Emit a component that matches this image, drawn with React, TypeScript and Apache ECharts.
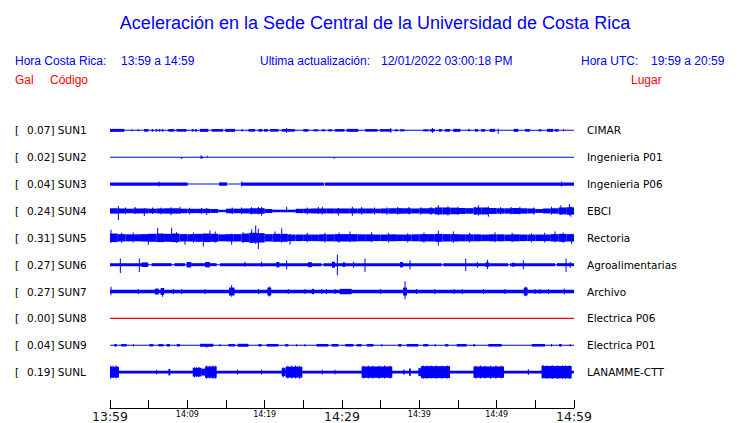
import React, { useEffect, useRef } from "react";
import * as echarts from "echarts";

// ---------- data ----------
const stationCodes = ["SUN1", "SUN2", "SUN3", "SUN4", "SUN5", "SUN6", "SUN7", "SUN8", "SUN9", "SUNL"];
const peakGal = ["0.07", "0.02", "0.04", "0.24", "0.31", "0.27", "0.27", "0.00", "0.04", "0.19"];
const places = ["CIMAR", "Ingenieria P01", "Ingenieria P06", "EBCI", "Rectoria", "Agroalimentarias", "Archivo", "Electrica P06", "Electrica P01", "LANAMME-CTT"];
const BLUE = "#0000ff";
const RED = "#ff0000";
const traceColors = [BLUE, BLUE, BLUE, BLUE, BLUE, BLUE, BLUE, RED, BLUE, BLUE];
// baseline half thickness (display units) per station
const baseHalf = [0.5, 0.5, 0.5, 0.5, 0.5, 0.5, 1.8, 0.6, 0.5, 1.3];

// x tick labels every 5 minutes (13:59 .. 14:59)
const xTickLabels = ["13:59", "", "14:09", "", "14:19", "", "14:29", "", "14:39", "", "14:49", "", "14:59"];
const majorTickIdx = [0, 6, 12];

// per-minute envelope (half amplitude) of noisy stations
const sun4Env = [2.7, 2.5, 2.3, 2.5, 2.5, 2.3, 2.5, 2.7, 2.7, 2.3, 2.2, 2.2, 2.2, 2.0, 1.2, 2.3, 2.3, 2.5, 2.7, 2.8, 2.0, 1.3, 1.3, 1.3, 2.2, 2.3, 2.5, 2.5, 2.5, 2.5, 2.5, 2.5, 2.5, 2.5, 2.3, 2.5, 2.7, 2.8, 2.7, 2.5, 2.7, 2.8, 3.5, 3.5, 3.3, 3.0, 2.8, 3.5, 3.5, 3.0, 2.7, 2.7, 3.0, 2.7, 2.5, 2.0, 2.5, 2.7, 3.5, 3.7];
const sun5Env = [4.3, 3.7, 3.5, 3.5, 3.7, 4.0, 4.3, 4.0, 4.3, 3.7, 3.7, 4.0, 4.3, 4.0, 3.5, 3.7, 3.7, 4.3, 5.0, 4.7, 3.7, 4.0, 4.0, 3.3, 3.3, 3.3, 3.3, 3.5, 3.5, 3.7, 3.7, 3.7, 3.5, 3.5, 3.3, 3.3, 3.5, 3.3, 3.3, 3.5, 3.7, 3.7, 4.0, 3.7, 3.7, 3.5, 3.5, 3.5, 3.3, 3.5, 3.5, 3.3, 3.5, 3.3, 3.3, 3.3, 3.3, 3.7, 4.0, 3.7];

// bursts: [startMin, endMin, halfAmplitude]
const sun1Bursts = [[0, 1.85, 1.5], [2.8, 2.9, 1.0], [3.62, 3.7, 1.0], [4.4, 4.96, 1.3], [5.4, 5.6, 1.3], [5.9, 6.1, 1.3], [6.3, 6.5, 1.3], [6.7, 6.9, 1.3], [7.54, 8.3, 1.3], [8.6, 9.9, 1.3], [10.56, 10.8, 1.3], [11.0, 11.2, 1.3], [11.64, 12.7, 1.5], [13.15, 14.6, 1.3], [14.9, 16.16, 1.5], [17.0, 17.2, 1.0], [17.9, 18.75, 1.3], [19.2, 19.7, 1.3], [19.9, 20.4, 1.3], [20.7, 21.8, 1.3], [22.2, 23.9, 1.3], [25.0, 25.65, 1.3], [26.3, 26.9, 1.0], [27.4, 27.8, 1.0], [28.2, 28.7, 1.0], [29.1, 30.3, 1.3], [30.6, 32.1, 1.5], [33.0, 34.6, 1.3], [34.9, 36.4, 1.3], [36.85, 37.2, 1.0], [37.5, 38.1, 1.0], [40.5, 41.2, 1.0], [41.4, 42.0, 1.3], [42.5, 42.9, 1.3], [43.3, 43.97, 1.3], [44.4, 45.3, 1.5], [46.3, 46.55, 1.0], [47.2, 47.6, 1.3], [48.0, 48.5, 1.3], [49.1, 49.8, 1.5], [52.2, 52.8, 1.5], [53.66, 54.3, 1.3], [55.4, 55.8, 1.0], [56.5, 57.3, 1.5], [57.5, 58.0, 1.3], [58.6, 58.7, 1.0]];
const sun2Bursts = [[11.7, 11.95, 1.5]];
const sun3Bursts = [[0, 10.04, 1.7], [14.1, 15.13, 1.7], [16.94, 27.65, 1.7], [27.8, 60, 1.7]];
const sun6Bursts = [[0, 4.96, 1.5], [5.39, 7.97, 1.5], [8.32, 9.7, 1.5], [9.91, 13.79, 1.5], [14.22, 27.37, 1.5], [27.59, 42.89, 1.5], [43.1, 51.5, 1.5], [51.72, 57.54, 1.5], [57.76, 60, 1.5], [4.1, 4.9, 2.3], [9.9, 10.5, 2.7], [12.3, 12.9, 2.7], [21.5, 21.9, 2.7], [25.6, 26.1, 2.5], [28.7, 29.1, 3.0], [30.1, 30.4, 2.3], [37.5, 37.9, 2.7], [48.6, 49.0, 2.3], [52.0, 52.3, 2.0]];
const sun7Bursts = [[5.8, 6.3, 3.0], [6.55, 7.0, 3.5], [15.4, 16.1, 4.0], [20.35, 20.85, 4.0], [26.1, 26.4, 2.7], [29.7, 31.25, 2.7], [37.9, 38.4, 4.0], [53.5, 54.0, 4.0]];
const sun9Bursts = [[0.56, 0.86, 1.3], [1.42, 2.16, 1.2], [3.0, 3.05, 1.3], [5.09, 5.6, 1.2], [6.25, 6.9, 1.2], [7.33, 7.76, 1.3], [8.62, 9.05, 1.2], [11.64, 13.36, 1.5], [14.2, 14.25, 1.3], [15.3, 16.16, 1.2], [16.5, 17.9, 1.5], [19.18, 19.6, 1.2], [20.26, 21.77, 1.3], [22.63, 23.06, 1.2], [24.1, 24.2, 1.2], [25.15, 25.25, 1.2], [26.7, 28.23, 1.3], [28.66, 29.53, 1.3], [30.4, 31.47, 1.3], [31.9, 32.54, 1.2], [33.2, 34.05, 1.3], [35.1, 35.2, 1.2], [37.28, 37.7, 1.3], [38.36, 39.87, 1.3], [40.5, 41.16, 1.2], [42.0, 42.1, 1.2], [43.32, 43.75, 1.2], [44.83, 46.12, 1.3], [46.98, 47.2, 1.2], [48.92, 50.65, 1.3], [54.53, 56.25, 1.3], [57.05, 57.15, 1.2], [58.06, 58.4, 1.3], [59.45, 59.55, 1.2]];
const sunLBursts = [[0, 1.16, 5.5], [7.55, 7.8, 3.3], [10.7, 11.85, 4.3], [11.85, 12.28, 3.5], [12.28, 13.8, 5.7], [22.2, 22.7, 4.0], [22.7, 24.87, 5.5], [32.54, 36.5, 5.7], [37.9, 38.1, 2.3], [38.66, 38.9, 3.7], [39.87, 40.2, 4.0], [40.2, 43.97, 6.0], [47.0, 50.95, 5.7], [55.8, 59.7, 6.2]];

// spikes: [minute, up, down]
const sun1Spikes = [[22.84, 2.3, 2.3], [36.3, 2.3, 2.3], [41.7, 2.3, 2.3], [50.2, 1.5, 3.3]];
const sun2Spikes = [[9.27, 0, 1.8], [12.6, 1.5, 0], [29.0, 0, 1.5]];
const sun3Spikes = [[6.34, 2.5, 2.5], [17.05, 2.5, 2.5], [58.4, 2.5, 2.5]];
const sun4Spikes = [[1.08, 5, 9], [2.0, 3.5, 3], [3.23, 4, 3], [4.44, 3, 5], [5.5, 3.5, 3], [6.6, 3.5, 3.5], [7.89, 3.7, 4.3], [9.05, 4.3, 3], [10.3, 3.3, 3.5], [11.85, 3, 3], [12.5, 3, 4], [15.8, 3.5, 3], [17.0, 3.5, 3.3], [18.3, 3.7, 3.5], [19.18, 4.3, 3.5], [19.6, 4, 4.7], [22.84, 4.3, 1.5], [25.5, 3.5, 3.5], [26.94, 4, 3], [27.46, 4.3, 3.5], [29.53, 3, 4.5], [31.34, 4.3, 4.7], [32.54, 4, 3.5], [34.2, 3.5, 3.5], [35.8, 3.5, 3.7], [37.2, 4, 3.5], [38.66, 4, 3.5], [40.2, 3.7, 3.7], [41.5, 4, 4], [42.46, 5.7, 4.3], [43.7, 4.7, 4.5], [45.0, 4.3, 4], [47.2, 4.3, 4], [47.63, 5.7, 4.5], [48.92, 4.5, 5.7], [50.5, 3.7, 3.5], [51.85, 4, 3.5], [53.0, 4.3, 3.5], [54.8, 3.5, 3.5], [57.1, 4.3, 3.5], [58.3, 5.7, 4], [59.4, 7, 4.5], [59.6, 4.5, 5.7]];
const sun5Spikes = [[0.13, 8, 5], [1.5, 5, 5], [3.0, 5.3, 4.7], [4.96, 4, 7], [6.16, 10, 4], [7.97, 10, 4], [8.6, 5.7, 5], [9.7, 4, 7], [10.8, 5.3, 5], [12.07, 4, 8.7], [12.93, 7.3, 4], [13.6, 6.3, 5], [15.73, 4, 7], [17.2, 5.7, 5.3], [18.32, 8.7, 5], [18.84, 12.3, 6], [19.18, 9, 11.3], [21.34, 6.3, 4], [22.2, 9.7, 5], [23.28, 4, 6.7], [25.5, 5, 4.5], [27.8, 5, 4.7], [29.6, 5.3, 5], [31.03, 6.3, 4.5], [33.84, 5.7, 4.5], [36.0, 5, 4.7], [38.5, 4.7, 4.7], [40.6, 5.3, 5], [42.46, 7, 7.7], [44.4, 6.3, 5], [46.5, 5, 4.7], [49.78, 5.7, 4.5], [52.0, 5, 4.5], [54.5, 4.7, 4.5], [56.2, 5, 4.7], [57.54, 6.3, 4.5], [58.6, 5.3, 5], [59.7, 4, 6.3]];
const sun6Spikes = [[1.34, 6.3, 8.3], [3.79, 6.3, 7.3], [17.46, 3, 2], [19.6, 3, 2], [22.84, 4.3, 4.7], [29.4, 10.3, 10.7], [31.5, 3, 3], [32.97, 6.3, 7.3], [38.8, 4.5, 4.5], [46.0, 6.3, 6.3], [47.5, 3, 3], [48.8, 5, 4.7], [53.45, 4.5, 4.5], [58.97, 6.3, 7.3], [59.5, 3, 3]];
const sun7Spikes = [[0.13, 4.7, 3.7], [3.66, 2.5, 2.5], [6.8, 3, 5.3], [8.2, 2.5, 2.5], [9.27, 2.5, 2.5], [12.3, 2.5, 2.5], [15.73, 6.3, 5.3], [19.2, 2.5, 2.5], [20.6, 5, 5], [23.06, 2.5, 2.5], [25.2, 2.5, 2.5], [27.4, 2.5, 2.5], [28.0, 2.5, 2.5], [29.1, 2.5, 2.5], [35.0, 2.5, 2.5], [38.15, 10.3, 7.7], [39.65, 2.5, 2.5], [42.0, 2.5, 2.5], [44.5, 2.5, 2.5], [45.55, 2.5, 2.5], [48.3, 2.5, 2.5], [51.07, 2.5, 2.5], [53.75, 4.7, 4.7], [54.95, 2.5, 2.5], [55.6, 2.5, 2.5], [56.7, 2.5, 2.5], [58.75, 3, 3]];
const sun8Spikes = [];
const sun9Spikes = [[12.5, 0.5, 2.3]];
const sunLSpikes = [[0.1, 6.3, 6.7], [0.4, 6.3, 6], [0.8, 6.7, 6.3], [6.03, 2.3, 2.3], [10.9, 5, 5.3], [11.2, 5, 5], [11.5, 5.3, 5], [12.5, 6.3, 6.7], [12.9, 6.3, 6.3], [13.3, 6.7, 6.3], [13.6, 6.3, 6.7], [16.5, 2.3, 2.3], [19.6, 2.5, 2.5], [22.4, 5, 5.3], [23.0, 6.3, 6.3], [23.5, 6.3, 6.3], [24.0, 6.7, 6.3], [24.5, 6.3, 6.7], [27.45, 2.5, 2.5], [29.1, 2.3, 2.3], [32.8, 6.3, 6.3], [33.4, 6.7, 6.3], [34.0, 6.3, 6.3], [34.8, 6.3, 6.7], [35.5, 6.7, 6.3], [36.2, 6.3, 6.3], [40.5, 6.7, 6.7], [41.0, 6.3, 6.7], [41.5, 6.7, 6.3], [42.2, 6.7, 6.7], [42.9, 6.3, 6.7], [43.6, 6.7, 6.3], [47.3, 6.3, 6.3], [47.9, 6.7, 6.3], [48.5, 6.3, 6.3], [49.2, 6.3, 6.7], [49.9, 6.7, 6.3], [50.6, 6.3, 6.3], [54.1, 3, 3], [56.0, 7.3, 6], [56.5, 6.7, 6.7], [57.2, 7, 6.7], [57.9, 6.7, 7], [58.5, 6.7, 6.7], [58.9, 7, 6.7], [59.4, 6.7, 7]];

const envBursts = (env) => env.map((v, i) => [i, i + 1, v]);
const stationBursts = [sun1Bursts, sun2Bursts, sun3Bursts, envBursts(sun4Env), envBursts(sun5Env), sun6Bursts, sun7Bursts, [], sun9Bursts, sunLBursts];
const stationSpikes = [sun1Spikes, sun2Spikes, sun3Spikes, sun4Spikes, sun5Spikes, sun6Spikes, sun7Spikes, sun8Spikes, sun9Spikes, sunLSpikes];

const ROW = 27; // display units between rows
const rowCenter = (i) => ROW * (i + 1);

export default function App() {
  const ref = useRef(null);
  useEffect(() => {
    document.body.style.margin = "0";
    const chart = echarts.init(ref.current, null, { renderer: "svg" });
    const series = stationCodes.map((code, i) => {
      const data = [[0, 60, baseHalf[i], baseHalf[i]]];
      stationBursts[i].forEach((b) => data.push([b[0], b[1], b[2], b[2]]));
      stationSpikes[i].forEach((s) => data.push([s[0], s[0], s[1], s[2]]));
      const color = traceColors[i];
      const c = rowCenter(i);
      return {
        type: "custom",
        name: code,
        silent: true,
        encode: { x: [0, 1], y: 2 },
        data,
        renderItem: (params, api) => {
          const t0 = api.value(0), t1 = api.value(1), up = api.value(2), dn = api.value(3);
          const a = api.coord([t0, c - up]);
          const b = api.coord([t1, c + dn]);
          let x = a[0];
          let w = b[0] - a[0];
          if (w < 1) { x = (a[0] + b[0]) / 2 - 0.5; w = 1; }
          return { type: "rect", shape: { x, y: a[1], width: w, height: Math.max(b[1] - a[1], 0.5) }, style: { fill: color } };
        },
      };
    });

    const hdrFont = "Liberation Sans, Arial, sans-serif";
    const txt = (text, x, y, fill, size, align = "left") => ({
      type: "text", x, y, silent: true,
      style: { text, fill, fontSize: size, fontFamily: hdrFont, align, verticalAlign: "middle" },
    });

    chart.setOption({
      animation: false,
      backgroundColor: "#ffffff",
      grid: { left: 110, right: 166, top: 103.5, height: 297 },
      xAxis: {
        type: "value", min: 0, max: 60, interval: 5, offset: 9, position: "bottom",
        axisLine: { show: true, onZero: false, lineStyle: { color: "#000", width: 1 } },
        axisTick: { show: true, inside: true, length: 8, lineStyle: { color: "#000" } },
        splitLine: { show: false },
        axisLabel: {
          margin: 2,
          formatter: (v) => {
            const idx = Math.round(v / 5);
            const lab = xTickLabels[idx] || "";
            if (!lab) return "";
            return majorTickIdx.includes(idx) ? `{big|${lab}}` : `{small|${lab}}`;
          },
          rich: {
            big: { fontSize: 12.5, fontFamily: "DejaVu Sans", color: "#111" },
            small: { fontSize: 8, fontFamily: "DejaVu Sans", color: "#000" },
          },
        },
      },
      yAxis: [
        {
          type: "value", min: 0, max: ROW * 11, interval: ROW, inverse: true, position: "left",
          axisLine: { show: false }, axisTick: { show: false }, splitLine: { show: false },
          axisLabel: {
            align: "left", margin: 95,
            formatter: (v) => {
              const i = Math.round(v / ROW) - 1;
              if (i < 0 || i > 9) return "";
              return `{br|[}{v|${peakGal[i]}] ${stationCodes[i]}}`;
            },
            rich: {
              br: { width: 12, fontSize: 10.5, fontFamily: "DejaVu Sans", color: "#000" },
              v: { fontSize: 10.5, fontFamily: "DejaVu Sans", color: "#000" },
            },
          },
        },
        {
          type: "value", min: 0, max: ROW * 11, interval: ROW, inverse: true, position: "right",
          axisLine: { show: false }, axisTick: { show: false }, splitLine: { show: false },
          axisLabel: {
            align: "left", margin: 13, fontSize: 10.5, fontFamily: "DejaVu Sans", color: "#000",
            formatter: (v) => {
              const i = Math.round(v / ROW) - 1;
              return i < 0 || i > 9 ? "" : places[i];
            },
          },
        },
      ],
      graphic: [
        txt("Aceleración en la Sede Central de la Universidad de Costa Rica", 375, 23, BLUE, 18, "center"),
        txt("Hora Costa Rica:", 15, 61, BLUE, 12),
        txt("13:59 a 14:59", 121, 61, BLUE, 12),
        txt("Ultima actualización:", 260, 61, BLUE, 12),
        txt("12/01/2022 03:00:18 PM", 381, 61, BLUE, 12),
        txt("Hora UTC:", 581, 61, BLUE, 12),
        txt("19:59 a 20:59", 651, 61, BLUE, 12),
        txt("Gal", 15, 80, RED, 12),
        txt("Código", 50, 80, RED, 12),
        txt("Lugar", 631, 80, RED, 12),
      ],
      series,
    });
    return () => chart.dispose();
  }, []);
  return <div ref={ref} style={{ position: "fixed", left: 0, top: 0, width: 740, height: 423 }} />;
}
